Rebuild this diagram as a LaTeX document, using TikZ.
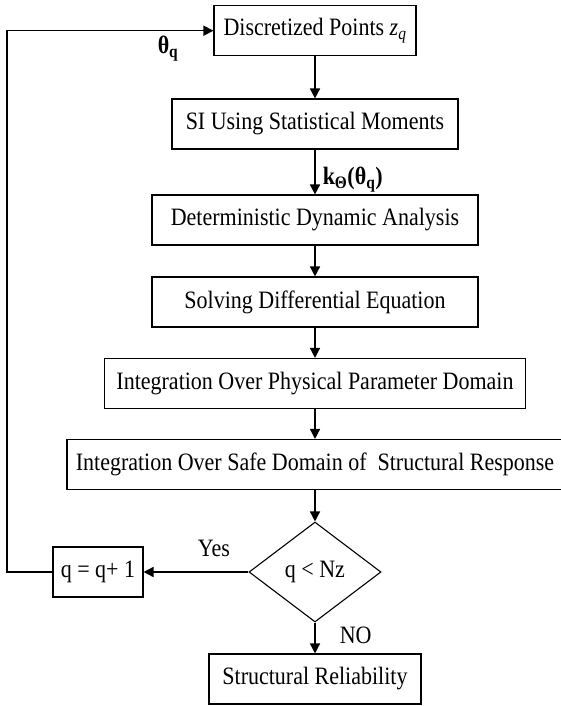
\documentclass[tikz,border=0pt]{standalone}
\usepackage{fontspec}
\setmainfont{Liberation Serif}[FakeStretch=0.88]
\usetikzlibrary{arrows.meta,shapes.geometric}

\begin{document}
\begin{tikzpicture}[x=1pt, y=-1pt, font=\fontsize{25}{29}\selectfont,
            stepbox/.style={draw, line width=1.1pt, minimum height=50pt, inner sep=0pt},
            flow/.style={-{Triangle[length=10pt,width=10pt]}, line width=1.5pt},
            tag/.style={inner sep=2pt}]
            \useasboundingbox (0,0) rectangle (561,706);
            \node [stepbox, minimum width=202pt] (points) at (315,30.7) {Discretized Points \textit{z}\textsubscript{\textit{q}}};
            \node [stepbox, minimum width=286pt] (moments) at (315,124) {SI Using Statistical Moments};
            \node [stepbox, minimum width=326pt] (dynamic) at (315,220) {Deterministic Dynamic Analysis};
            \node [stepbox, minimum width=326pt] (solving) at (315,302) {Solving Differential Equation};
            \node [stepbox, minimum width=421pt] (physical) at (315,383.5) {Integration Over Physical Parameter Domain};
            \node [stepbox, minimum width=496pt] (safe) at (315,464.5) {Integration Over Safe Domain of \ Structural Response};
            \node [draw, diamond, line width=1.1pt, minimum width=132pt, minimum height=100pt, inner sep=0pt] (check) at (315,572) {q < Nz};
            \node [stepbox, minimum width=90pt] (incr) at (98,572) {q = q+ 1};
            \node [stepbox, minimum width=212pt] (reliab) at (315,679) {Structural Reliability};
            \coordinate (corner) at (7,572);
            \draw [flow] (points)-- (moments);
            \draw [flow] (moments)-- node [tag, right=5pt, pos=0.67]{\textbf{k\textsubscript{Θ}(θ\textsubscript{q})}} (dynamic);
            \draw [flow] (dynamic)-- (solving);
            \draw [flow] (solving)-- (physical);
            \draw [flow] (physical)-- (safe);
            \draw [flow] (safe)-- (check);
            \draw [flow] (check)-- node [tag, above=13pt, pos=0.33]{Yes} (incr);
            \draw [flow] (check)-- node [tag, right=22pt, pos=0.4]{NO} (reliab);
            \draw [flow] (incr.west)-- (corner) |- node [tag, below=3pt, pos=0.89]{\textbf{θ\textsubscript{q}}} (points.west);
\end{tikzpicture}
\end{document}
